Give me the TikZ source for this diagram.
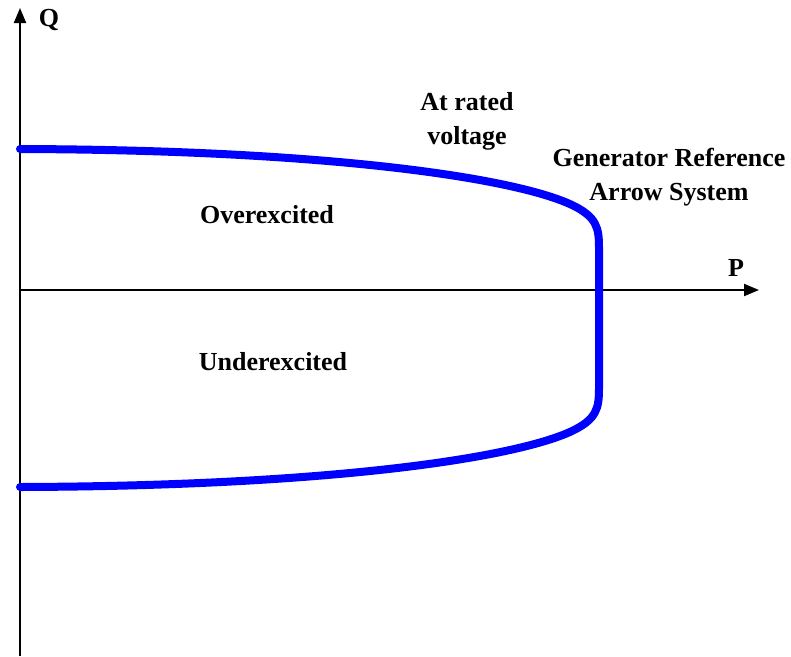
\documentclass[tikz,border=0pt]{standalone}
\usepackage{fontspec}
\setmainfont{Liberation Serif}
\usetikzlibrary{arrows.meta}
\definecolor{limitblue}{RGB}{0,0,255}
\begin{document}
\begin{tikzpicture}[x=1pt,y=-1pt,
  axis/.style={line width=2pt,-{Triangle[length=15pt,width=12pt]}},
  limit/.style={line width=8pt,limitblue,line cap=round,line join=round},
  lbl/.style={font=\fontsize{26}{34}\selectfont\bfseries,align=center,inner sep=0pt}]
\useasboundingbox (0,0) rectangle (791,656);
% axes
\coordinate (origin) at (20,290);
\coordinate (qbot) at (20,656);
\coordinate (qtop) at (20,8);
\coordinate (pend) at (759,290);
\draw[axis] (qbot) -- (qtop);
\draw[axis] (origin) -- (pend);
\node[lbl] (qlabel) at (49,20) {Q};
\node[lbl] (plabel) at (736,268) {P};
% capability limit curve
\draw[limit] (20,149) .. controls (330,150) and (515,178) .. (572,205)
  .. controls (597,217) and (599,228) .. (599,248)
  -- (599,388)
  .. controls (599,408) and (597,419) .. (572,431)
  .. controls (515,458) and (330,486) .. (20,487);
% labels
\node[lbl] (rated) at (467,121) {At rated\\voltage};
\node[lbl] (gras) at (669,177) {Generator Reference\\Arrow System};
\node[lbl] (over) at (267,215) {Overexcited};
\node[lbl] (under) at (273,362) {Underexcited};
\end{tikzpicture}
\end{document}
